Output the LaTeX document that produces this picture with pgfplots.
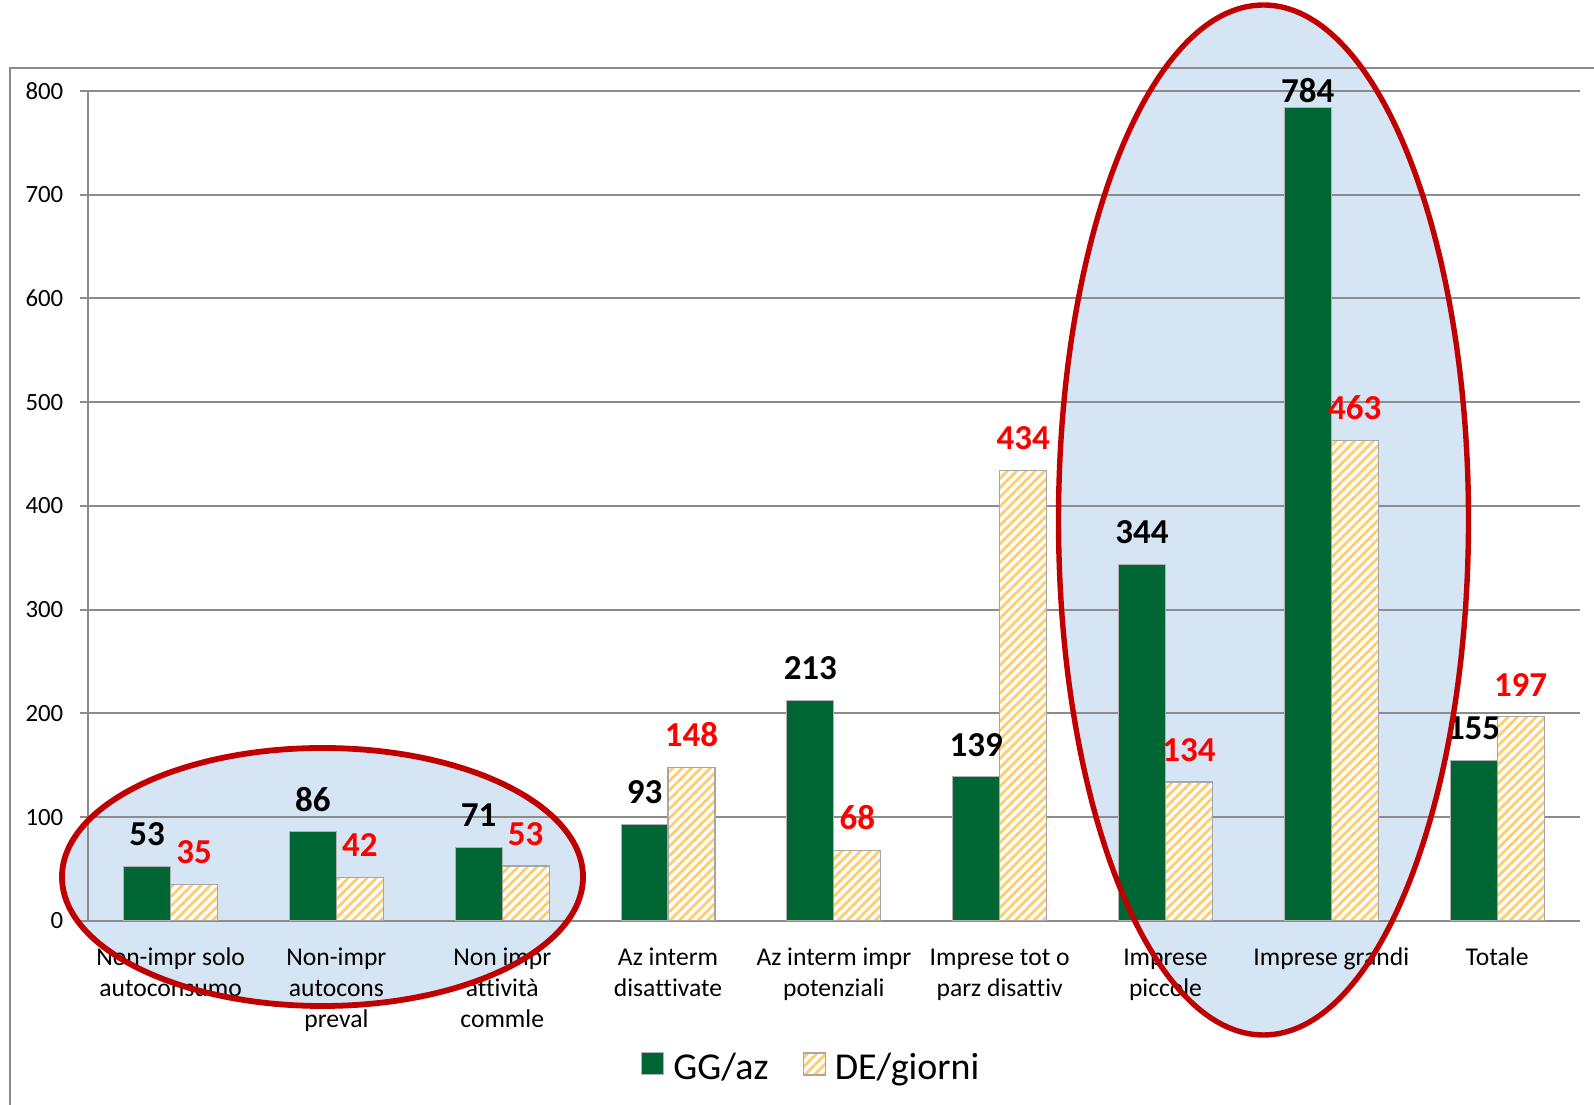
\documentclass[border=0pt]{standalone}
\usepackage{fontspec}
\setmainfont{Carlito}[Ligatures={NoCommon}]
\usepackage{pgfplots}
\usepackage{pgfplotstable}
\pgfplotsset{compat=1.18}
\usetikzlibrary{patterns.meta}
\definecolor{ggreen}{RGB}{0,102,51}
\definecolor{stripe}{RGB}{255,205,110}
\definecolor{gridgray}{RGB}{140,140,140}
\definecolor{ellred}{RGB}{192,0,0}
\definecolor{ellblue}{RGB}{214,229,244}
\definecolor{labred}{RGB}{255,0,0}
\newcommand{\tl}[1]{\begin{tabular}[t]{@{}c@{}}#1\end{tabular}}
\pgfplotstableread{
x gg ggdy
0 53 10
1 86 10
2 71 10
3 93 10
4 213 10
5 139 10
6 344 10
7 784 2
8 155 10
}\ggtab
\pgfplotstableread{
x de dedy
0 35 10
1 42 10
2 53 10
3 148 10
4 68 10
5 434 10
6 134 10
7 463 10
8 197 10
}\detab
\begin{document}
\begin{tikzpicture}[x=1bp,y=1bp]
\fill[ellblue] (161.25,114) ellipse [x radius=130.25, y radius=64.5];
\fill[ellblue] (631.75,292.5) ellipse [x radius=102.5, y radius=257.5];
\begin{axis}[
  at={(43.85bp,92bp)}, anchor=south west,
  scale only axis, width=746.15bp, height=415bp,
  ybar=0pt, bar width=23.5bp,
  xmin=-0.5, xmax=8.5, ymin=0, ymax=800,
  axis x line*=bottom, axis y line*=left,
  axis line style={gridgray, line width=1bp},
  ytick={0,100,...,800},
  ymajorgrids, grid style={gridgray, line width=1bp},
  tick align=outside, major tick length=4bp, minor tick length=4bp,
  tick style={gridgray, line width=1bp},
  xtick={0,...,8},
  xtick style={draw=none},
  minor xtick={-0.5,0.5,1.5,2.5,3.5,4.5,5.5,6.5,7.5,8.5},
  xticklabels={{\tl{Non-impr solo\\autoconsumo}},{\tl{Non-impr\\autocons\\preval}},{\tl{Non impr\\attività\\commle}},{\tl{Az interm\\disattivate}},{\tl{Az interm impr\\potenziali}},{\tl{Imprese tot o\\parz disattiv}},{\tl{Imprese\\piccole}},{\tl{Imprese grandi}},{\tl{Totale}}},
  xticklabel style={anchor=base, inner sep=0pt, yshift=-18.5bp, font=\fontsize{12.8bp}{15.5bp}\selectfont},
  yticklabel style={anchor=east, inner sep=0pt, xshift=-8bp, font=\fontsize{12.4bp}{14bp}\selectfont},
  /pgf/number format/assume math mode=true,
  legend columns=2,
  legend style={at={(0.4843,-0.1765)}, anchor=center, draw=none, fill=none, inner sep=0pt,
    font=\fontsize{19bp}{19bp}\selectfont, nodes={inner sep=0pt},
    /tikz/every odd column/.append style={column sep=4.5bp},
    /tikz/every even column/.append style={column sep=17bp}},
  legend image code/.code={\draw[#1] (0bp,-3.5bp) rectangle (11bp,7.5bp);},
]
\addplot[fill=ggreen, draw=gray!60, line width=0.5bp,
  visualization depends on={\thisrow{ggdy} \as \dy},
  nodes near coords,
  every node near coord/.append style={black, font=\fontsize{17.5bp}{17.5bp}\selectfont\bfseries, inner sep=0pt, anchor=south, yshift=\dy bp}]
  table[x=x, y=gg] {\ggtab};
\addplot[fill=white, draw=gray!70, line width=0.6bp,
  postaction={pattern={Lines[angle=45,distance=3.3bp,line width=1.4bp]}, pattern color=stripe},
  visualization depends on={\thisrow{dedy} \as \dy},
  nodes near coords,
  every node near coord/.append style={labred, font=\fontsize{17.5bp}{17.5bp}\selectfont\bfseries, inner sep=0pt, anchor=south, yshift=\dy bp}]
  table[x=x, y=de] {\detab};
\legend{GG/az, DE/giorni}
\end{axis}
\draw[gridgray, line width=1bp] (5,0) -- (5,518.25) -- (797,518.25);
\draw[ellred, line width=2.9bp] (161.25,114) ellipse [x radius=130.25, y radius=64.5];
\draw[ellred, line width=2.7bp] (631.75,292.5) ellipse [x radius=102.5, y radius=257.5];
\pgfresetboundingbox
\path[use as bounding box] (0,0) rectangle (797,552.5);
\end{tikzpicture}
\end{document}
